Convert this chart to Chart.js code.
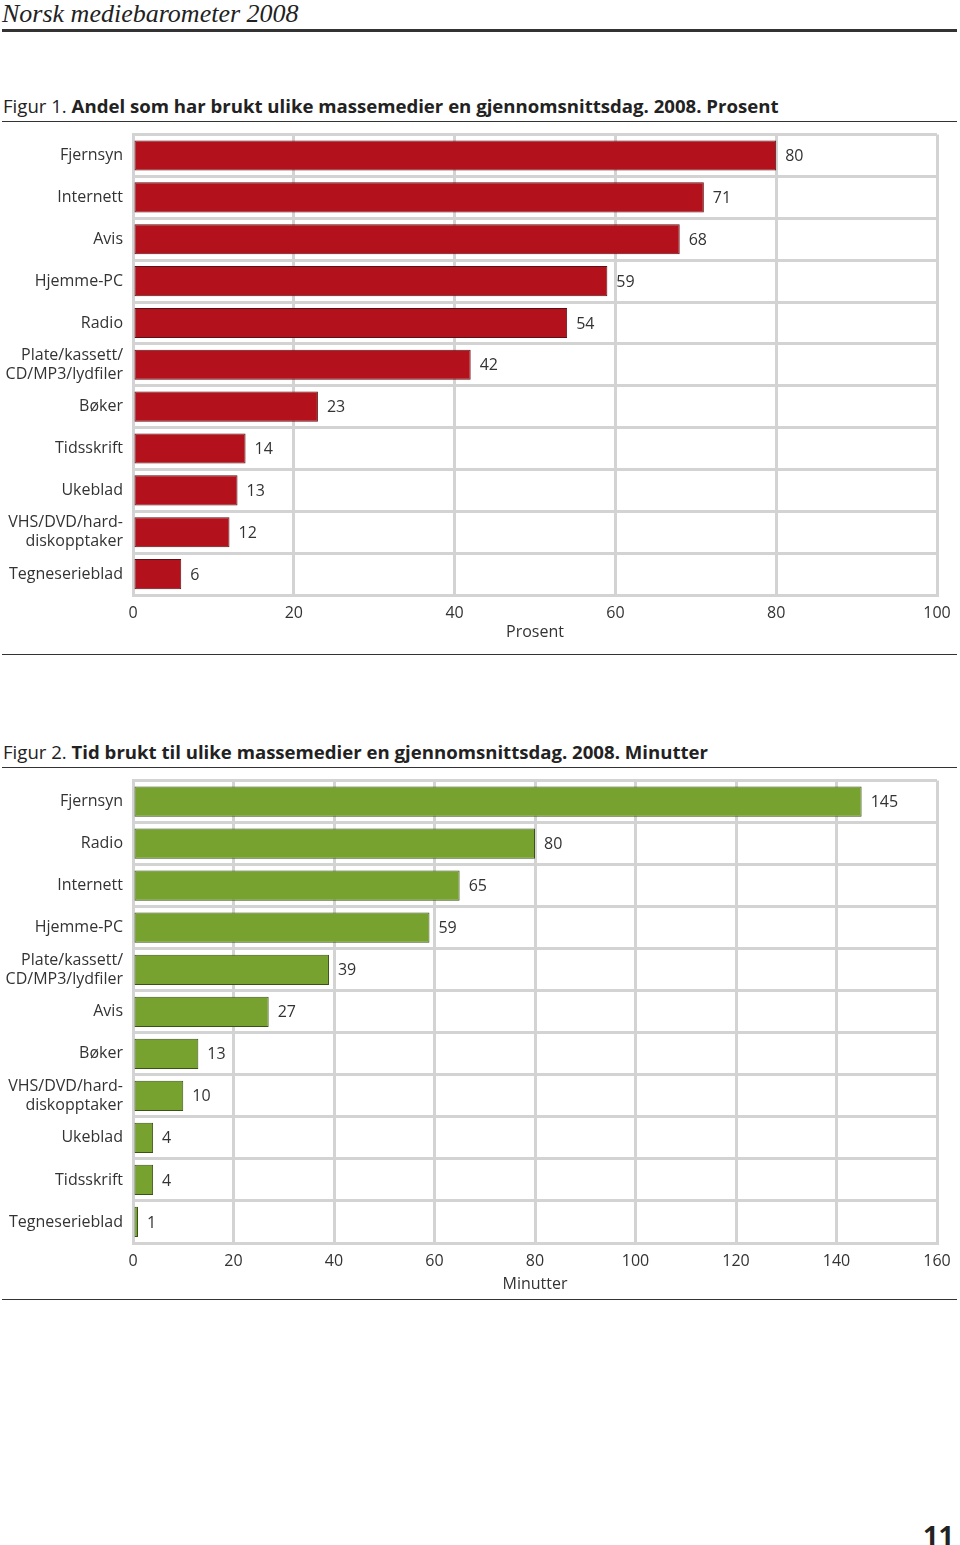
<!DOCTYPE html>
<html>
<head>
<meta charset="utf-8">
<script src="https://cdn.jsdelivr.net/npm/chart.js@4/dist/chart.umd.min.js"></script>
<style>
  body { margin: 0; background: #fff; width: 960px; height: 1545px; position: relative; font-family: "Open Sans", sans-serif; color: #222; }
  .head { position: absolute; left: 2px; top: -1px; font-family: "Liberation Serif", serif; font-style: italic; font-size: 26px; }
  .rule { position: absolute; left: 2px; width: 955px; background: #333; }
  .ftitle { position: absolute; left: 3px; font-size: 18.6px; white-space: nowrap; }
  .ftitle b { font-weight: 700; }
  .chartbox { position: absolute; left: 0; width: 960px; }
  .pagenr { position: absolute; right: 6px; top: 1516px; font-weight: 700; font-size: 27px; }
</style>
</head>
<body>
<div class="head">Norsk mediebarometer 2008</div>
<div class="rule" style="top:29px;height:3px"></div>

<div class="ftitle" style="top:93px">Figur 1. <b>Andel som har brukt ulike massemedier en gjennomsnittsdag. 2008. Prosent</b></div>
<div class="rule" style="top:121px;height:1px"></div>
<div class="chartbox" style="top:115px;height:527px"><canvas id="chart1"></canvas></div>
<div class="rule" style="top:654px;height:1px"></div>

<div class="ftitle" style="top:739px">Figur 2. <b>Tid brukt til ulike massemedier en gjennomsnittsdag. 2008. Minutter</b></div>
<div class="rule" style="top:767px;height:1px"></div>
<div class="chartbox" style="top:761px;height:533px"><canvas id="chart2"></canvas></div>
<div class="rule" style="top:1299px;height:1px"></div>

<div class="pagenr">11</div>

<script>
const shareLabels = ['Fjernsyn', 'Internett', 'Avis', 'Hjemme-PC', 'Radio',
  ['Plate/kassett/', 'CD/MP3/lydfiler'], 'Bøker', 'Tidsskrift', 'Ukeblad',
  ['VHS/DVD/hard-', 'diskopptaker'], 'Tegneserieblad'];
const shareValues = [80, 71, 68, 59, 54, 42, 23, 14, 13, 12, 6];

const timeLabels = ['Fjernsyn', 'Radio', 'Internett', 'Hjemme-PC',
  ['Plate/kassett/', 'CD/MP3/lydfiler'], 'Avis', 'Bøker',
  ['VHS/DVD/hard-', 'diskopptaker'], 'Ukeblad', 'Tidsskrift', 'Tegneserieblad'];
const timeValues = [145, 80, 65, 59, 39, 27, 13, 10, 4, 4, 1];

const gridColor = '#d3d3d3';
const textColor = '#333';
const font = { family: '"Open Sans", sans-serif', size: 16 };

// value labels to the right of each bar
const valueLabels = {
  id: 'valueLabels',
  afterDatasetsDraw(chart) {
    const c = chart.ctx;
    const meta = chart.getDatasetMeta(0);
    c.save();
    c.font = '16px "Open Sans", sans-serif';
    c.fillStyle = textColor;
    c.textAlign = 'left';
    c.textBaseline = 'middle';
    meta.data.forEach((bar, i) => {
      c.fillText(chart.data.datasets[0].data[i], bar.x + 9, bar.y + 1);
    });
    c.restore();
  }
};

function makeChart(id, labels, values, color, border, max, title, axisHeight) {
  return new Chart(document.getElementById(id), {
    type: 'bar',
    data: {
      labels: labels,
      datasets: [{
        data: values,
        backgroundColor: color,
        borderColor: border,
        borderWidth: 1,
        borderSkipped: false,
        categoryPercentage: 1,
        barPercentage: 0.72
      }]
    },
    options: {
      indexAxis: 'y',
      responsive: true,
      maintainAspectRatio: false,
      animation: false,
      layout: { padding: { top: 0, right: 23, left: 0, bottom: 0 } },
      plugins: { legend: { display: false }, tooltip: { enabled: false } },
      scales: {
        x: {
          min: 0, max: max,
          ticks: { stepSize: 20, color: textColor, font: font, padding: 9 },
          grid: { color: gridColor, lineWidth: 3, drawTicks: false },
          border: { color: gridColor, width: 3 },
          title: { display: true, text: title, color: textColor, font: font, padding: { top: 0, bottom: 0 } },
          afterFit(scale) { scale.height = axisHeight; }
        },
        y: {
          ticks: { color: textColor, font: font, padding: 10, autoSkip: false },
          grid: { color: gridColor, lineWidth: 3, drawTicks: false },
          border: { color: gridColor, width: 3 },
          afterFit(scale) { scale.width = 133; }
        }
      }
    },
    plugins: [valueLabels]
  });
}

makeChart('chart1', shareLabels, shareValues, '#b3121d', '#5a1115', 100, 'Prosent', 47);
makeChart('chart2', timeLabels, timeValues, '#77a22f', '#3b5216', 160, 'Minutter', 51);
</script>
</body>
</html>
